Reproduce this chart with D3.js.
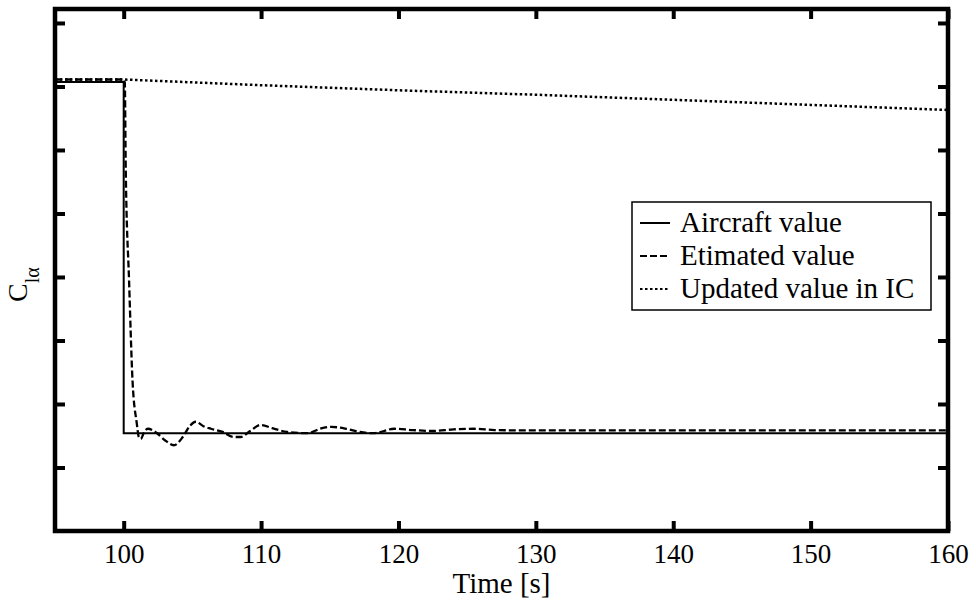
<!DOCTYPE html>
<html>
<head>
<meta charset="utf-8">
<script src="https://d3js.org/d3.v7.min.js"></script>
<style>
  body { margin: 0; background: #fff; }
  svg text { font-family: "Liberation Serif", "Times New Roman", serif; }
</style>
</head>
<body>
<svg id="chart" width="976" height="605"></svg>
<script>
// time ticks and y ticks (y has no labels)
var xTicks = [100, 110, 120, 130, 140, 150, 160];
var yTicks = [1, 2, 3, 4, 5, 6, 7, 8];

// aircraft value (step)
var aircraftT = [95, 100, 100, 160];
var aircraftV = [7.07, 7.07, 1.54, 1.54];

// estimated value
var estT = [95, 100, 100.08, 100.15, 100.39, 100.64, 100.95, 101.1, 101.24, 101.5, 101.75, 102.3, 103.0, 103.65,
            104.3, 104.8, 105.25, 105.8, 106.35, 107.2, 108.0, 108.5, 109.2, 109.98, 110.8, 111.9, 113.4, 114.3,
            115.1, 116.2, 117.2, 118.2, 119.7, 121, 122.5, 124, 125.5, 127, 130, 140, 160];
var estV = [7.11, 7.11, 7.06, 5.69, 3.95, 2.38, 1.70, 1.48, 1.45, 1.56, 1.61, 1.56, 1.43, 1.35,
            1.48, 1.65, 1.72, 1.65, 1.61, 1.56, 1.48, 1.48, 1.575, 1.67, 1.62, 1.56, 1.54, 1.61,
            1.64, 1.61, 1.56, 1.54, 1.61, 1.59, 1.575, 1.60, 1.61, 1.59, 1.583, 1.583, 1.583];

// updated value in IC
var icT = [95, 100, 110, 120, 130, 140, 150, 160];
var icV = [7.11, 7.11, 7.02, 6.94, 6.87, 6.79, 6.71, 6.63];

var legendLabels = ["Aircraft value", "Etimated value", "Updated value in IC"];

var svg = d3.select("#chart");
var mLeft = 55, mRight = 948, mTop = 9, mBottom = 531;
var serif = "'Liberation Serif', 'Times New Roman', serif";

var x = d3.scaleLinear().domain([95, 160]).range([mLeft, mRight]);
var y = d3.scaleLinear().domain([0, 8.22]).range([mBottom, mTop]);

function zip(t, v) { return t.map(function(d, i) { return [d, v[i]]; }); }
var line = d3.line().x(function(d) { return x(d[0]); }).y(function(d) { return y(d[1]); });
var curve = d3.line().curve(d3.curveMonotoneX).x(function(d) { return x(d[0]); }).y(function(d) { return y(d[1]); });

var plot = svg.append("g");
plot.append("clipPath").attr("id", "clip")
  .append("rect").attr("x", mLeft).attr("y", mTop).attr("width", mRight - mLeft).attr("height", mBottom - mTop);

var lines = plot.append("g").attr("clip-path", "url(#clip)");
lines.append("path").attr("d", line(zip(icT, icV)))
  .attr("fill", "none").attr("stroke", "black").attr("stroke-width", 2.5).attr("stroke-dasharray", "2.5,2.5");
lines.append("path").attr("d", line(zip(aircraftT, aircraftV)))
  .attr("fill", "none").attr("stroke", "black").attr("stroke-width", 2);
lines.append("path").attr("d", curve(zip(estT, estV)))
  .attr("fill", "none").attr("stroke", "black").attr("stroke-width", 2.3).attr("stroke-dasharray", "7,3");

// axes with inward ticks
function styleAxis(g) {
  g.select(".domain").remove();
  g.selectAll(".tick line").attr("stroke", "black").attr("stroke-width", 4);
}
svg.append("g").attr("transform", "translate(0," + mBottom + ")")
  .call(d3.axisBottom(x).tickValues(xTicks).tickSize(-10).tickPadding(12.5).tickFormat(d3.format("d")))
  .call(styleAxis)
  .selectAll("text").attr("font-size", "27px").attr("fill", "black")
  .style("font-family", serif);
svg.append("g").attr("transform", "translate(0," + mTop + ")")
  .call(d3.axisTop(x).tickValues(xTicks).tickSize(-10).tickFormat(""))
  .call(styleAxis);
svg.append("g").attr("transform", "translate(" + mLeft + ",0)")
  .call(d3.axisLeft(y).tickValues(yTicks).tickSize(-10).tickFormat(""))
  .call(styleAxis);
svg.append("g").attr("transform", "translate(" + mRight + ",0)")
  .call(d3.axisRight(y).tickValues(yTicks).tickSize(-10).tickFormat(""))
  .call(styleAxis);

// frame
svg.append("rect").attr("x", mLeft).attr("y", mTop).attr("width", mRight - mLeft).attr("height", mBottom - mTop)
  .attr("fill", "none").attr("stroke", "black").attr("stroke-width", 4.5);

// axis titles
svg.append("text").attr("x", (mLeft + mRight) / 2).attr("y", 593).attr("text-anchor", "middle")
  .style("font-family", serif).attr("font-size", "29px").text("Time [s]");

var yl = svg.append("text").attr("transform", "translate(27,302) rotate(-90)")
  .style("font-family", serif).attr("font-size", "28px");
yl.append("tspan").text("C");
yl.append("tspan").attr("font-size", "20px").attr("dy", 12).text("lα");

// legend
var lg = svg.append("g");
lg.append("rect").attr("x", 632).attr("y", 202).attr("width", 299).attr("height", 108)
  .attr("fill", "white").attr("stroke", "black").attr("stroke-width", 1.5);
var dashes = [null, "7,3", "2.5,2.5"];
legendLabels.forEach(function(d, i) {
  var by = 232 + i * 33;
  lg.append("line").attr("x1", 640).attr("x2", 670).attr("y1", by - 9).attr("y2", by - 9)
    .attr("stroke", "black").attr("stroke-width", 2).attr("stroke-dasharray", dashes[i]);
  lg.append("text").attr("x", 680).attr("y", by).style("font-family", serif)
    .attr("font-size", "29px").text(d);
});
</script>
</body>
</html>
